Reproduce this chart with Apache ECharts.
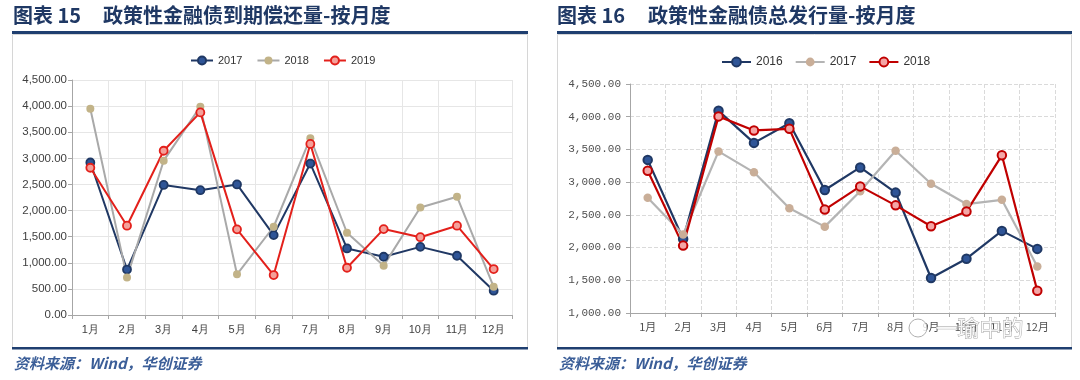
<!DOCTYPE html>
<html>
<head>
<meta charset="utf-8">
<script src="https://cdn.jsdelivr.net/npm/echarts@6/dist/echarts.min.js"></script>
<style>html,body{margin:0;padding:0;background:#fff}#c{width:1080px;height:380px}</style>
</head>
<body>
<div id="c"></div>
<script>
// ---- data ----
var months = ['1月','2月','3月','4月','5月','6月','7月','8月','9月','10月','11月','12月'];
// 图表15 到期偿还量
var repay2017 = [2920, 870, 2490, 2390, 2500, 1530, 2900, 1275, 1115, 1305, 1135, 465];
var repay2018 = [3950, 720, 2955, 3990, 780, 1690, 3385, 1575, 945, 2060, 2265, 540];
var repay2019 = [2820, 1710, 3145, 3880, 1640, 765, 3275, 905, 1645, 1490, 1710, 880];
// 图表16 总发行量
var issue2016 = [3340, 2130, 4090, 3600, 3900, 2880, 3225, 2840, 1535, 1830, 2255, 1980];
var issue2017 = [2760, 2200, 3470, 3150, 2600, 2320, 2860, 3480, 2975, 2665, 2730, 1710];
var issue2018 = [3175, 2030, 4005, 3790, 3815, 2580, 2935, 2645, 2325, 2550, 3410, 1340];
var leftTicks = {min: 0, max: 4500, interval: 500};
var rightTicks = {min: 1000, max: 4500, interval: 500};

function fmt(v){
  return v.toFixed(2).replace(/\B(?=(\d{3})+(?!\d))/g, ',');
}

var navy = '#1F3864';
var chart = echarts.init(document.getElementById('c'), null, {renderer: 'canvas'});

function leftSeries(name, data, line, fill, border, idx){
  return {
    name: name, type: 'line', data: data, xAxisIndex: idx, yAxisIndex: idx,
    symbol: 'circle', symbolSize: 8, showSymbol: true,
    lineStyle: {color: line, width: 2},
    itemStyle: {color: fill, borderColor: border, borderWidth: border ? 1.8 : 0},
    emphasis: {disabled: true}, animation: false
  };
}
function rightSeries(name, data, line, fill, border, idx){
  return {
    name: name, type: 'line', data: data, xAxisIndex: idx, yAxisIndex: idx,
    symbol: 'circle', symbolSize: 8.5, showSymbol: true,
    lineStyle: {color: line, width: 2.2},
    itemStyle: {color: fill, borderColor: border, borderWidth: border ? 2 : 0},
    emphasis: {disabled: true}, animation: false
  };
}

var axisLabelL = {color: '#404040', fontSize: 11.5, fontFamily: 'Liberation Sans'};
var axisLabelR = {color: '#505050', fontSize: 11, fontFamily: 'Liberation Mono'};

var option = {
  animation: false,
  backgroundColor: '#fff',
  grid: [
    {left: 72, right: 568, top: 80, bottom: 65},
    {left: 630, right: 25, top: 84, bottom: 67}
  ],
  legend: [
    {
      data: ['2017', '2018', '2019'], left: 185, top: 50, itemWidth: 22, itemHeight: 10, itemGap: 14,
      textStyle: {color: '#333333', fontSize: 11, fontFamily: 'Liberation Sans'}
    },
    {
      data: ['2016', '2017 ', '2018 '], left: 716, top: 51, itemWidth: 29, itemHeight: 11, itemGap: 12,
      formatter: function(n){ return n.trim(); },
      textStyle: {color: '#333333', fontSize: 12, fontFamily: 'Liberation Sans'}
    }
  ],
  xAxis: [
    {
      type: 'category', gridIndex: 0, data: months, boundaryGap: true,
      axisLine: {lineStyle: {color: '#A6A6A6'}},
      axisTick: {show: true, alignWithLabel: false, length: 4, lineStyle: {color: '#A6A6A6'}},
      axisLabel: Object.assign({margin: 9, interval: 0}, axisLabelL, {fontSize: 11}),
      splitLine: {show: true, lineStyle: {color: '#E6E6E6'}}
    },
    {
      type: 'category', gridIndex: 1, data: months, boundaryGap: true,
      axisLine: {lineStyle: {color: '#A6A6A6'}},
      axisTick: {show: true, length: 4, lineStyle: {color: '#A6A6A6'}},
      axisLabel: {color: '#505050', fontSize: 11, fontFamily: 'Noto Sans CJK SC', margin: 8, interval: 0},
      splitLine: {show: true, lineStyle: {color: '#DADADA', type: [4, 2]}}
    }
  ],
  yAxis: [
    {
      type: 'value', gridIndex: 0, min: leftTicks.min, max: leftTicks.max, interval: leftTicks.interval,
      axisLine: {show: true, lineStyle: {color: '#A6A6A6'}},
      axisTick: {show: true, length: 4, lineStyle: {color: '#A6A6A6'}},
      axisLabel: Object.assign({margin: 5, formatter: fmt}, axisLabelL),
      splitLine: {show: true, lineStyle: {color: '#E6E6E6'}}
    },
    {
      type: 'value', gridIndex: 1, min: rightTicks.min, max: rightTicks.max, interval: rightTicks.interval,
      axisLine: {show: true, lineStyle: {color: '#A6A6A6'}},
      axisTick: {show: true, length: 4, lineStyle: {color: '#A6A6A6'}},
      axisLabel: Object.assign({margin: 9, formatter: fmt}, axisLabelR),
      splitLine: {show: true, lineStyle: {color: '#DADADA', type: [4, 2]}}
    }
  ],
  series: [
    leftSeries('2017', repay2017, '#203864', '#2F5597', '#1F3864', 0),
    leftSeries('2018', repay2018, '#A9A9A9', '#C2B388', null, 0),
    leftSeries('2019', repay2019, '#E3201B', '#F4A09A', '#E3201B', 0),
    rightSeries('2016', issue2016, '#1F3864', '#2F5597', '#1F3864', 1),
    rightSeries('2017 ', issue2017, '#B4B4B4', '#C9AE98', null, 1),
    rightSeries('2018 ', issue2018, '#C00000', '#F4A6A6', '#C00000', 1)
  ],
  graphic: [
    // frames
    {type: 'rect', shape: {x: 12.5, y: 34.5, width: 515, height: 313}, style: {fill: 'none', stroke: '#D6D6D6', lineWidth: 1}, silent: true},
    {type: 'rect', shape: {x: 557.5, y: 34.5, width: 514, height: 313}, style: {fill: 'none', stroke: '#D6D6D6', lineWidth: 1}, silent: true},
    // title rules
    {type: 'rect', shape: {x: 12, y: 31, width: 516, height: 3}, style: {fill: '#1F3F70'}, silent: true},
    {type: 'rect', shape: {x: 557, y: 31, width: 515, height: 3}, style: {fill: '#1F3F70'}, silent: true},
    // bottom rules
    {type: 'rect', shape: {x: 12, y: 347, width: 516, height: 2.5}, style: {fill: '#1F3F70'}, silent: true},
    {type: 'rect', shape: {x: 557, y: 347, width: 515, height: 2.5}, style: {fill: '#1F3F70'}, silent: true},
    // titles
    {type: 'text', left: 13, top: 5, style: {text: '图表 15', fill: navy, font: 'bold 20px "Noto Sans CJK SC"'}, silent: true},
    {type: 'text', left: 103, top: 5, style: {text: '政策性金融债到期偿还量-按月度', fill: navy, font: 'bold 20px "Noto Sans CJK SC"'}, silent: true},
    {type: 'text', left: 557, top: 5, style: {text: '图表 16', fill: navy, font: 'bold 20px "Noto Sans CJK SC"'}, silent: true},
    {type: 'text', left: 648, top: 5, style: {text: '政策性金融债总发行量-按月度', fill: navy, font: 'bold 20px "Noto Sans CJK SC"'}, silent: true},
    // sources
    {type: 'text', left: 14, top: 356, style: {text: '资料来源：Wind，华创证券', fill: '#3B5E98', font: 'italic bold 15px "Noto Sans CJK SC"'}, silent: true},
    {type: 'text', left: 559, top: 356, style: {text: '资料来源：Wind，华创证券', fill: '#3B5E98', font: 'italic bold 15px "Noto Sans CJK SC"'}, silent: true},
    // watermark
    {type: 'circle', shape: {cx: 918, cy: 328, r: 9}, style: {fill: 'rgba(255,255,255,0.8)', stroke: '#B0B0B0', lineWidth: 1}, silent: true, z: 100},
    {type: 'text', left: 935, top: 316, style: {text: '一瑜中的', fill: 'rgba(255,255,255,0.85)', stroke: '#9A9A9A', lineWidth: 0.8, font: '22px "Noto Sans CJK SC"'}, silent: true, z: 100}
  ]
};
chart.setOption(option);
</script>
</body>
</html>
